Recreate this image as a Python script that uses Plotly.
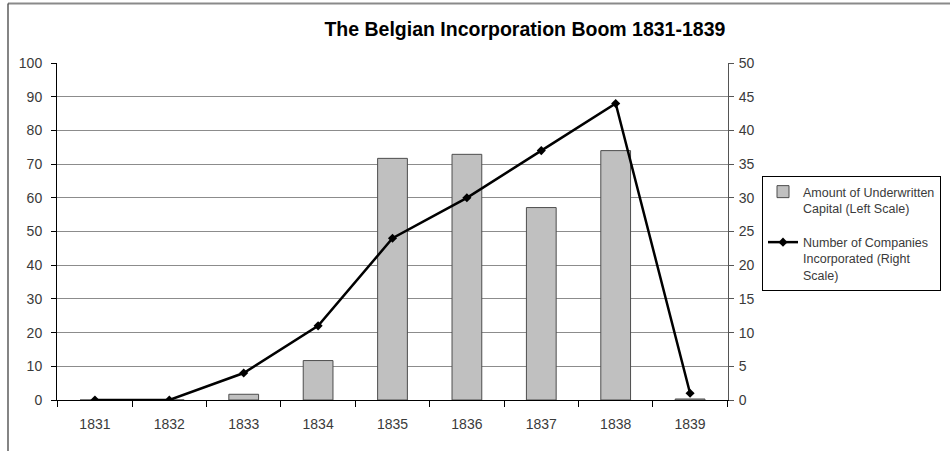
import plotly.graph_objects as go

years = ["1831", "1832", "1833", "1834", "1835", "1836", "1837", "1838", "1839"]
capital = [0, 0, 1.7, 11.7, 71.7, 72.9, 57.1, 74.0, 0.3]
companies = [0, 0, 4, 11, 24, 30, 37, 44, 1]

FONT = "Liberation Sans, Arial, sans-serif"
TXT = "#3a3a3a"

fig = go.Figure()
fig.add_trace(go.Bar(
    x=years, y=capital, name="Amount of Underwritten<br>Capital (Left Scale)",
    marker=dict(color="#c0c0c0", line=dict(color="#4d4d4d", width=1)),
    width=0.4, legendgroup="a", yaxis="y",
))
fig.add_trace(go.Scatter(
    x=years, y=companies, name="Number of Companies<br>Incorporated (Right<br>Scale)",
    mode="lines+markers", line=dict(color="black", width=2.5),
    marker=dict(symbol="diamond", size=7, color="black"),
    legendgroup="b", yaxis="y2",
))

fig.update_layout(
    width=950, height=451,
    margin=dict(l=57, r=222, t=63, b=51, autoexpand=False),
    paper_bgcolor="white", plot_bgcolor="white",
    font=dict(family=FONT, size=14, color=TXT),
    title=dict(text="<b>The Belgian Incorporation Boom 1831-1839</b>",
               font=dict(family=FONT, size=19.5, color="black"),
               x=0.5525, xanchor="center", y=0.935, yanchor="middle"),
    showlegend=True,
    legend=dict(x=(762 - 57) / 671, y=(400 - 176) / 337, xanchor="left", yanchor="top",
                bordercolor="black", borderwidth=1, bgcolor="white",
                font=dict(family=FONT, size=12.5, color=TXT),
                valign="top", tracegroupgap=15, traceorder="grouped",
                itemwidth=30),
    xaxis=dict(type="category", tickson="boundaries", ticks="outside", ticklen=6,
               tickcolor="black", showline=True, linecolor="black", linewidth=1,
               showgrid=False, ticklabelstandoff=11, tickfont=dict(size=14, color=TXT)),
    yaxis=dict(range=[0, 100], dtick=10, ticks="outside", ticklen=5, tickcolor="black",
               showline=True, linecolor="black", linewidth=1,
               showgrid=True, gridcolor="#8c8c8c", gridwidth=1, zeroline=False,
               ticklabelstandoff=6, tickfont=dict(size=14, color=TXT)),
    yaxis2=dict(range=[0, 50], dtick=5, overlaying="y", side="right", ticks="outside",
                ticklen=5, tickcolor="#555", showline=True, linecolor="#555", linewidth=1,
                showgrid=False, zeroline=False, ticklabelstandoff=2,
                tickfont=dict(size=14, color=TXT)),
)

# chart-area frame (top and left edges visible)
fig.add_shape(type="line", xref="paper", yref="paper",
              x0=(8 - 57) / 671, x1=(960 - 57) / 671,
              y0=(400 - 3.5) / 337, y1=(400 - 3.5) / 337,
              line=dict(color="#8a8a8a", width=2))
fig.add_shape(type="line", xref="paper", yref="paper",
              x0=(8 - 57) / 671, x1=(8 - 57) / 671,
              y0=(400 - 3.5) / 337, y1=(400 - 460) / 337,
              line=dict(color="#333333", width=1.2))

fig.write_html("out.html", config={"displayModeBar": False},
               post_script="document.body.style.margin='0';document.body.style.overflow='hidden';")
